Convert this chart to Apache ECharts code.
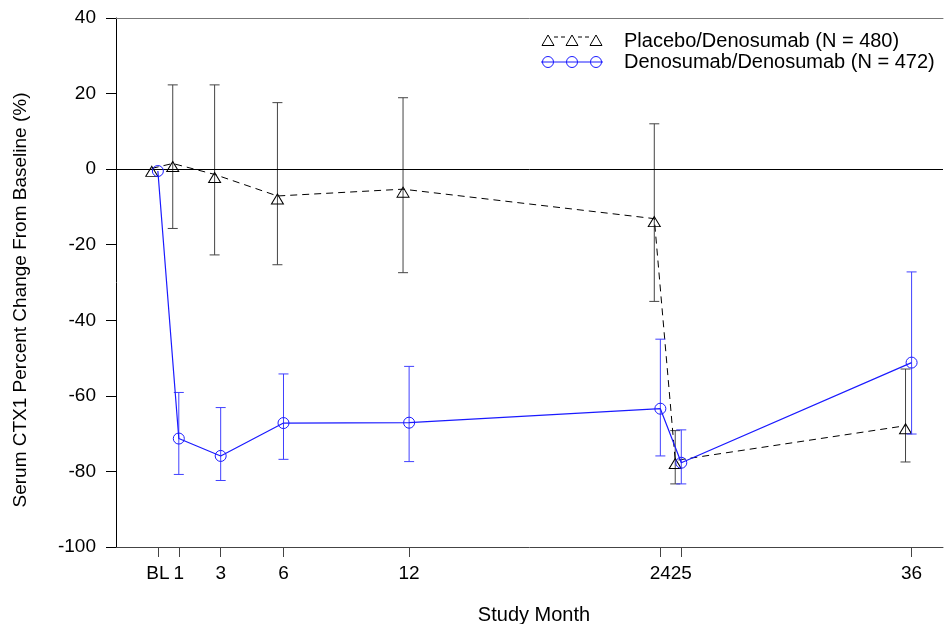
<!DOCTYPE html>
<html>
<head>
<meta charset="utf-8">
<script src="https://cdn.jsdelivr.net/npm/echarts@6/dist/echarts.min.js"></script>
<style>
  html, body { margin: 0; padding: 0; background: #fff; }
  #chart { width: 944px; height: 624px; }
</style>
</head>
<body>
<div id="chart"></div>
<script>
// Study months (0 = baseline)
const months = [0, 1, 3, 6, 12, 24, 25, 36];
const yTicks = [-100, -80, -60, -40, -20, 0, 20, 40];

// Placebo/Denosumab: percent change and error-bar limits
const placeboMean = [0.2, 1.5, -1.4, -7.1, -5.3, -13.1, -77.1, -67.9];
const placeboLow  = [null, -15.7, -22.7, -25.3, -27.4, -35.0, -83.3, -77.5];
const placeboHigh = [null, 22.3, 22.3, 17.6, 18.9, 12.0, -69.2, -52.9];

// Denosumab/Denosumab: percent change and error-bar limits
const denoMean = [-0.5, -71.3, -75.9, -67.2, -67.1, -63.4, -77.7, -51.2];
const denoLow  = [null, -80.8, -82.4, -76.8, -77.4, -75.9, -83.3, -70.1];
const denoHigh = [null, -59.1, -63.1, -54.2, -52.2, -45.0, -69.0, -27.2];

const FONT = '"Liberation Sans", Arial, sans-serif';
const BLUE = '#1a1aff';
const BLUE_BAR = '#4040ff';
const GRAY = '#444';
// placebo points are nudged left so the two groups don't overlap
const PLACEBO_SHIFT = -0.29;

function pts(mean, shift) {
  return months.map((m, i) => [m + shift, mean[i]]);
}
function bars(low, high, shift) {
  return months.map((m, i) => [m + shift, low[i], high[i]]).filter(d => d[1] != null);
}
function errorBars(color) {
  return function (params, api) {
    const x = api.value(0);
    const lo = api.coord([x, api.value(1)]);
    const hi = api.coord([x, api.value(2)]);
    const cap = 5;
    const style = { stroke: color, lineWidth: 1 };
    return {
      type: 'group',
      children: [
        { type: 'line', shape: { x1: lo[0], y1: lo[1], x2: hi[0], y2: hi[1] }, style },
        { type: 'line', shape: { x1: lo[0] - cap, y1: lo[1], x2: lo[0] + cap, y2: lo[1] }, style },
        { type: 'line', shape: { x1: hi[0] - cap, y1: hi[1], x2: hi[0] + cap, y2: hi[1] }, style }
      ]
    };
  };
}

const chart = echarts.init(document.getElementById('chart'), null, { renderer: 'canvas' });

// legend rows
const legendX = [548, 572, 596];
const legend = [];
for (let i = 0; i < legendX.length - 1; i++) {
  legend.push({ type: 'line', shape: { x1: legendX[i] + 6, y1: 37, x2: legendX[i + 1] - 6, y2: 37 },
    style: { stroke: '#000', lineWidth: 1, lineDash: [4, 3] } });
}
legendX.forEach(x => legend.push({ type: 'polygon',
  shape: { points: [[x, 35], [x + 6, 45.5], [x - 6, 45.5]] },
  style: { fill: 'none', stroke: '#000', lineWidth: 1 } }));
legend.push({ type: 'line', shape: { x1: 541, y1: 62, x2: 603, y2: 62 }, style: { stroke: BLUE, lineWidth: 1 } });
legendX.forEach(x => legend.push({ type: 'circle', shape: { cx: x, cy: 62, r: 5.5 },
  style: { fill: 'none', stroke: BLUE, lineWidth: 1 } }));
legend.push({ type: 'text', x: 624, y: 41, style: { text: 'Placebo/Denosumab (N = 480)', font: '20px ' + FONT, fill: '#000', align: 'left', verticalAlign: 'middle' } });
legend.push({ type: 'text', x: 624, y: 62, style: { text: 'Denosumab/Denosumab (N = 472)', font: '20px ' + FONT, fill: '#000', align: 'left', verticalAlign: 'middle' } });

chart.setOption({
  animation: false,
  backgroundColor: '#fff',
  grid: { left: 116, right: 1, top: 18, bottom: 77, containLabel: false },
  xAxis: [{
    type: 'value', min: -2, max: 37.5, position: 'bottom',
    axisLine: { show: true, onZero: false, lineStyle: { color: GRAY, width: 1 } },
    axisTick: { show: true, inside: false, length: 10, customValues: months, lineStyle: { color: GRAY } },
    axisLabel: { show: true, customValues: months, margin: 17, fontFamily: FONT, fontSize: 19, color: '#000',
      formatter: v => (v === 0 ? 'BL' : String(v)) },
    splitLine: { show: false }
  }, {
    type: 'value', min: -2, max: 37.5, position: 'top',
    axisLine: { show: true, onZero: false, lineStyle: { color: '#777', width: 1 } },
    axisTick: { show: false }, axisLabel: { show: false }, splitLine: { show: false }
  }],
  yAxis: {
    type: 'value', min: yTicks[0], max: yTicks[yTicks.length - 1], interval: 20,
    axisLine: { show: true, onZero: false, lineStyle: { color: '#000', width: 1 } },
    axisTick: { show: true, inside: false, length: 10, lineStyle: { color: '#000' } },
    axisLabel: { margin: 20, fontFamily: FONT, fontSize: 19, color: '#000' },
    splitLine: { show: false }
  },
  graphic: [
    { type: 'text', x: 534, y: 615, style: { text: 'Study Month', font: '20px ' + FONT, fill: '#000', align: 'center', verticalAlign: 'middle' } },
    { type: 'text', x: 21, y: 300, rotation: Math.PI / 2, style: { text: 'Serum CTX1 Percent Change From Baseline (%)', font: '19px ' + FONT, fill: '#000', align: 'center', verticalAlign: 'middle' } },
    ...legend
  ],
  series: [
    {
      name: 'Placebo/Denosumab (N = 480) bars', type: 'custom', z: 3,
      renderItem: errorBars(GRAY), encode: { x: 0, y: [1, 2] },
      data: bars(placeboLow, placeboHigh, PLACEBO_SHIFT)
    },
    {
      name: 'Placebo/Denosumab (N = 480)', type: 'line', z: 4,
      data: pts(placeboMean, PLACEBO_SHIFT),
      lineStyle: { color: '#000', width: 1, type: [7, 5] },
      symbol: 'triangle', symbolSize: [12, 10], symbolOffset: [0, 3],
      itemStyle: { color: 'transparent', borderColor: '#000', borderWidth: 1 },
      markLine: {
        silent: true, symbol: 'none', label: { show: false },
        lineStyle: { color: '#000', width: 1, type: 'solid' },
        data: [{ yAxis: 0 }]
      }
    },
    {
      name: 'Denosumab/Denosumab (N = 472) bars', type: 'custom', z: 5,
      renderItem: errorBars(BLUE_BAR), encode: { x: 0, y: [1, 2] },
      data: bars(denoLow, denoHigh, 0)
    },
    {
      name: 'Denosumab/Denosumab (N = 472)', type: 'line', z: 6,
      data: pts(denoMean, 0),
      lineStyle: { color: BLUE, width: 1.2 },
      symbol: 'circle', symbolSize: 11,
      itemStyle: { color: 'transparent', borderColor: BLUE, borderWidth: 1 }
    }
  ]
});
</script>
</body>
</html>
